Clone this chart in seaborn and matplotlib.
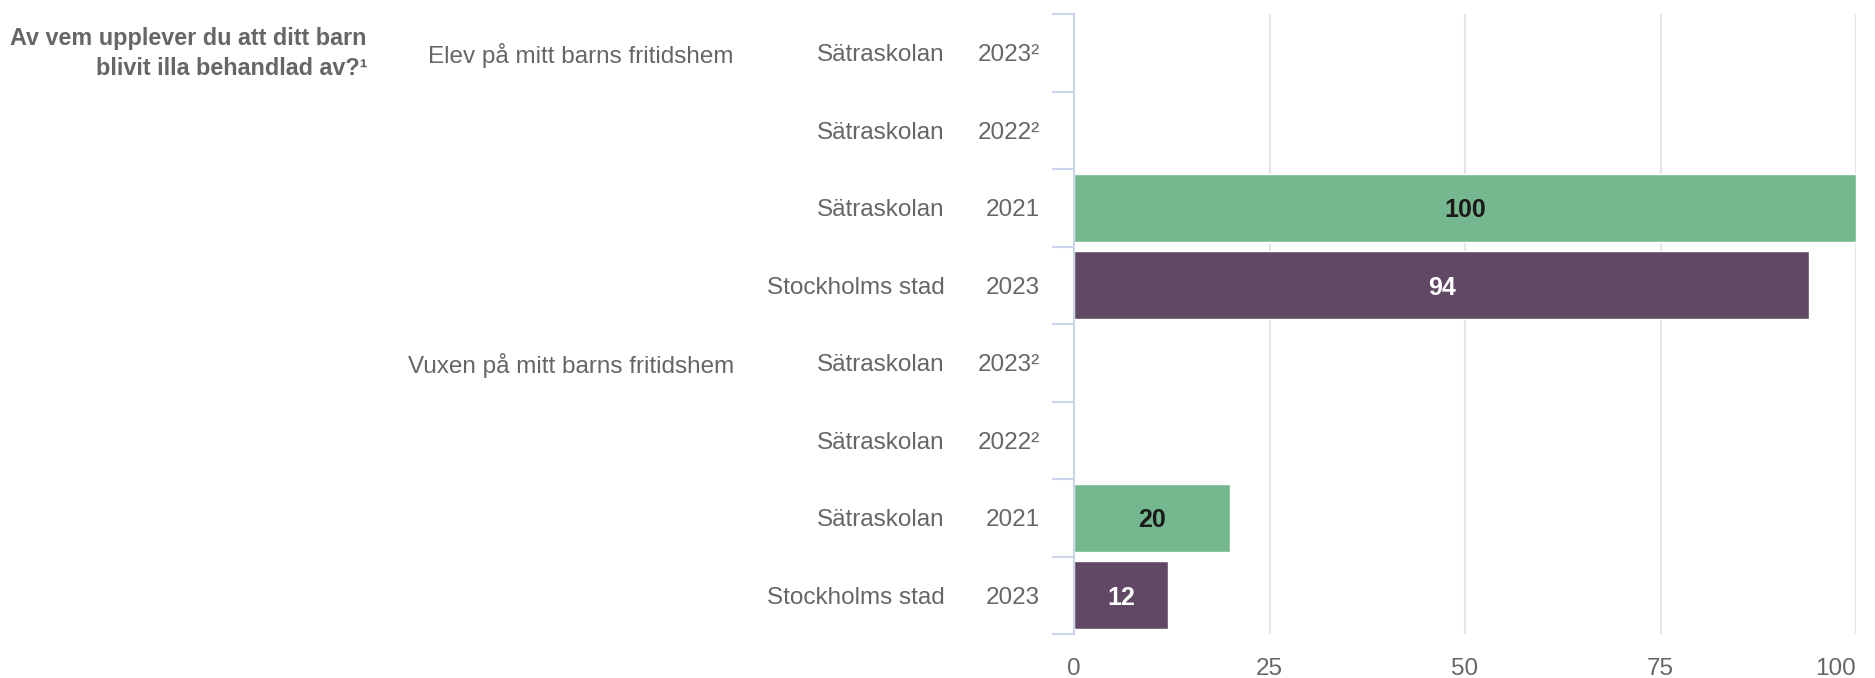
import matplotlib
matplotlib.use("Agg")
import matplotlib.pyplot as plt
import matplotlib.transforms as mtransforms
import seaborn as sns
import pandas as pd
import numpy as np

# ---- data ----
groups = ["Elev på mitt barns fritidshem", "Vuxen på mitt barns fritidshem"]
units = ["Sätraskolan", "Sätraskolan", "Sätraskolan", "Stockholms stad"]
years = ["2023²", "2022²", "2021", "2023"]
series = ["Sätraskolan", "Sätraskolan", "Sätraskolan", "Stockholms stad"]
values_elev = [np.nan, np.nan, 100, 94]
values_vuxen = [np.nan, np.nan, 20, 12]
title_lines = ["Av vem upplever du att ditt barn", "blivit illa behandlad av?¹"]
xticks = [0, 25, 50, 75, 100]

colors = {"Sätraskolan": "#75b78f", "Stockholms stad": "#614864"}
label_colors = {"Sätraskolan": "#1a1a1a", "Stockholms stad": "#ffffff"}

rows = []
for g, vals in zip(groups, [values_elev, values_vuxen]):
    for u, y, s, v in zip(units, years, series, vals):
        rows.append({"row": f"{g}|{u}|{y}", "group": g, "unit": u, "year": y,
                     "series": s, "value": v})
df = pd.DataFrame(rows)
order = list(df["row"])

sns.set_theme(style="white")
plt.rcParams["font.family"] = ["Liberation Sans", "DejaVu Sans"]

W, H = 1875, 678
fig = plt.figure(figsize=(W / 100, H / 100), dpi=100)
ax = fig.add_axes([1074 / W, 1 - 634 / H, (1856 - 1074) / W, (634 - 14) / H])

sns.barplot(data=df, x="value", y="row", order=order, hue="series",
            palette=colors, dodge=False, width=0.88, ax=ax, legend=False,
            orient="h", edgecolor="white", linewidth=1, saturation=1)

fs = 17.5
ax.set_xlim(0, 100)
ax.set_ylim(len(order) - 0.5, -0.5)
ax.set_xticks(xticks)
ax.set_xticklabels([str(t) for t in xticks])
ax.get_xticklabels()[-1].set_horizontalalignment("right")
ax.set_xlabel("")
ax.set_ylabel("")
ax.set_yticks([])
for t in xticks[1:]:
    ax.axvline(t, color="#e6e6e6", lw=1.5, zorder=0)
for sp in ["top", "right", "bottom"]:
    ax.spines[sp].set_visible(False)
ax.spines["left"].set_color("#ccd6eb")
ax.spines["left"].set_linewidth(1.5)
ax.tick_params(axis="x", length=0, pad=17, labelsize=fs, labelcolor="#666666")
ax.set_axisbelow(True)

# row boundary ticks on the left
blend = mtransforms.blended_transform_factory(fig.transFigure, ax.transData)
for b in np.arange(-0.5, len(order), 1.0):
    ax.plot([1053 / W, 1074 / W], [b, b], transform=blend, color="#ccd6eb",
            lw=1.5, clip_on=False)

# category labels
for i, r in df.iterrows():
    ax.text(1040 / W, i, r["year"], transform=blend, ha="right",
            va="center_baseline", fontsize=fs, color="#666666")
    ax.text(945 / W, i, r["unit"], transform=blend, ha="right",
            va="center_baseline", fontsize=fs, color="#666666")
    if i % 4 == 0:
        ax.text(734 / W, i, r["group"], transform=blend, ha="right",
                va="center_baseline", fontsize=fs, color="#666666")
    if not np.isnan(r["value"]):
        ax.text(r["value"] / 2, i, f"{int(r['value'])}", ha="center",
                va="center_baseline", fontsize=18, fontweight="bold",
                color=label_colors[r["series"]])

fig.text(367 / W, 1 - 27 / H, "\n".join(title_lines), ha="right", va="top",
         fontsize=16.8, fontweight="bold", color="#666666", linespacing=1.4)

fig.savefig("out.png", dpi=100, facecolor="white")
